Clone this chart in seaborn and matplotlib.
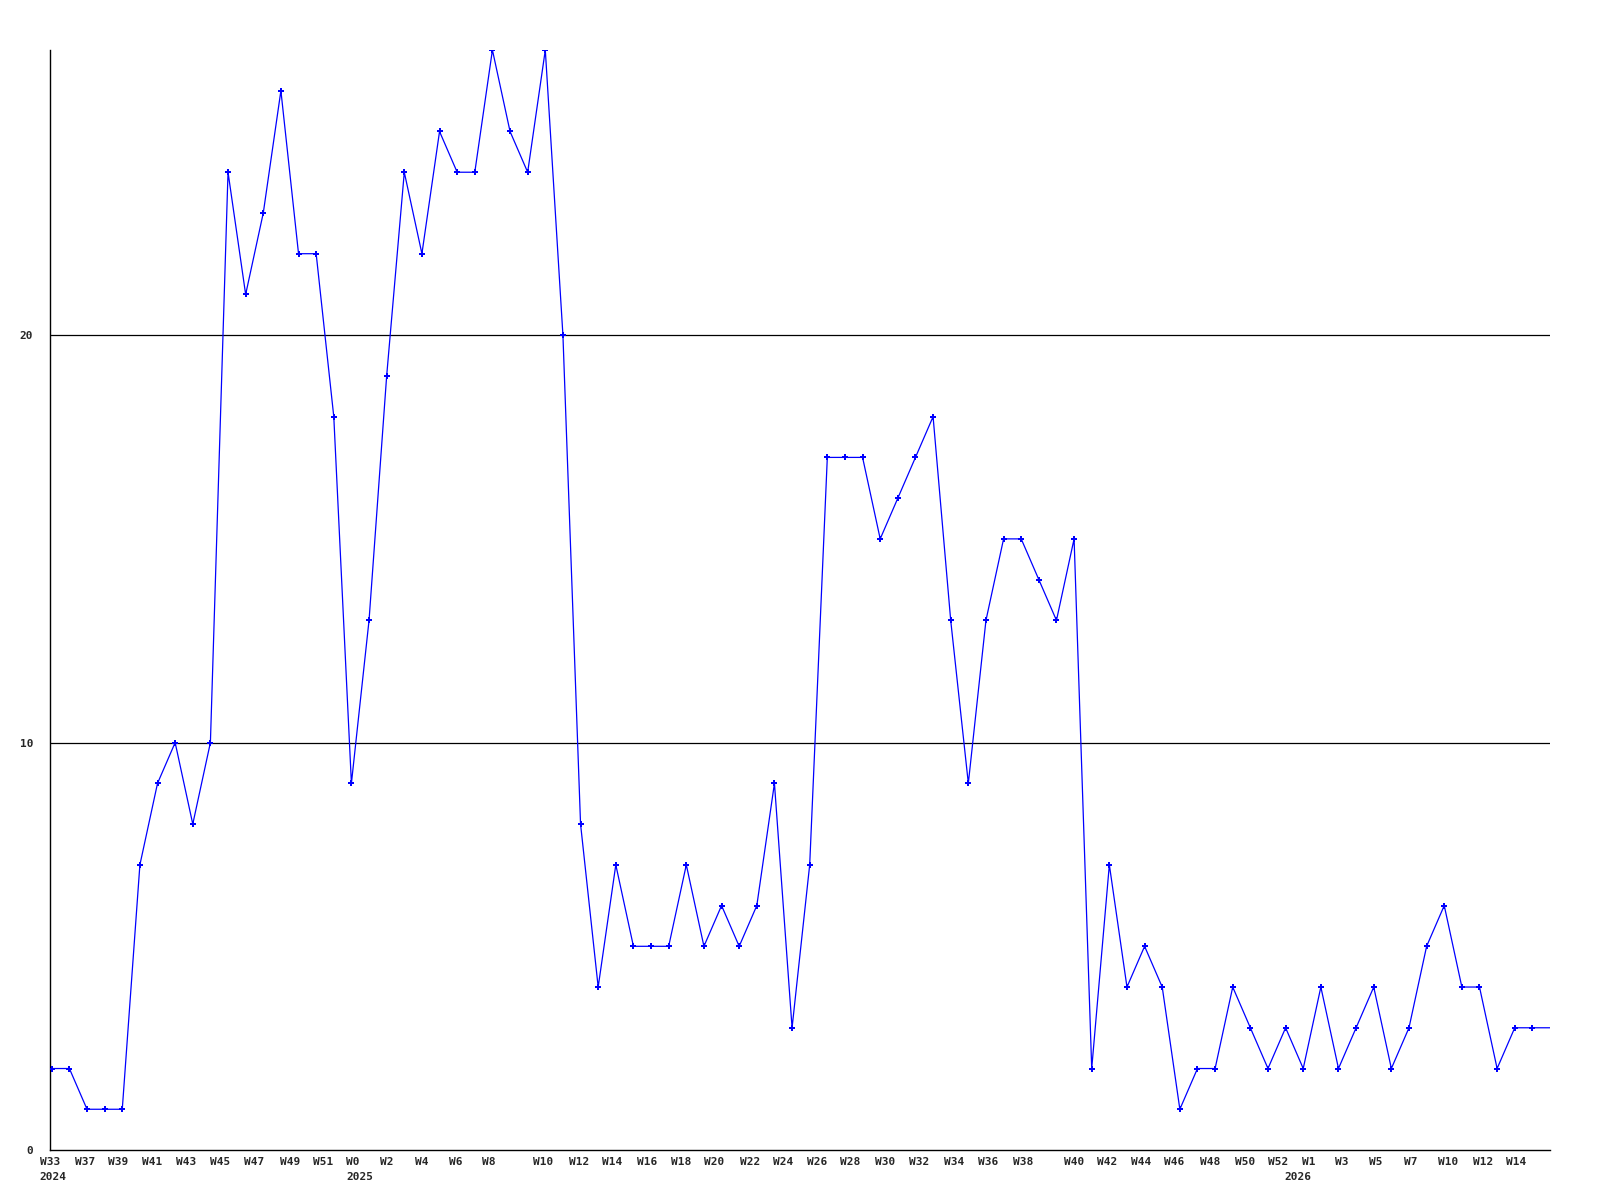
import numpy as np
import pandas as pd
import matplotlib
matplotlib.use("Agg")
import matplotlib.pyplot as plt
import matplotlib.transforms as mtransforms
import seaborn as sns

# ---- data ----
values = [2, 2, 1, 1, 1, 7, 9, 10, 8, 10,
          24, 21, 23, 26, 22, 22, 18, 9, 13, 19,
          24, 22, 25, 24, 24, 27, 25, 24, 27, 20,
          8, 4, 7, 5, 5, 5, 7, 5, 6, 5,
          6, 9, 3, 7, 17, 17, 17, 15, 16, 17,
          18, 13, 9, 13, 15, 15, 14, 13, 15, 2,
          7, 4, 5, 4, 1, 2, 2, 4, 3, 2,
          3, 2, 4, 2, 3, 4, 2, 3, 5, 6,
          4, 4, 2, 3, 3, 3]

week_labels = ["W33", "W37", "W39", "W41", "W43", "W45", "W47", "W49", "W51",
               "W0", "W2", "W4", "W6", "W8", "W10", "W12", "W14", "W16", "W18",
               "W20", "W22", "W24", "W26", "W28", "W30", "W32", "W34", "W36",
               "W38", "W40", "W42", "W44", "W46", "W48", "W50", "W52", "W1",
               "W3", "W5", "W7", "W10", "W12", "W14"]
# label positions (in point-index units along the x axis)
week_label_pos = [-0.1, 1.87, 3.74, 5.67, 7.65, 9.58, 11.5, 13.5, 15.4,
                  17.1, 19.0, 21.0, 22.9, 24.8, 27.9, 29.9, 31.8, 33.8, 35.7,
                  37.6, 39.6, 41.5, 43.4, 45.3, 47.3, 49.2, 51.2, 53.1,
                  55.1, 58.0, 59.9, 61.8, 63.7, 65.7, 67.7, 69.6, 71.3,
                  73.2, 75.1, 77.1, 79.2, 81.2, 83.1]
year_labels = ["2024", "2025", "2026"]
year_label_pos = [0.08, 17.5, 70.7]

y_ticks = [0, 10, 20]

df = pd.DataFrame({"idx": np.arange(len(values)), "value": values})

# ---- style ----
sns.set_style("white")
plt.rcParams["font.family"] = ["DejaVu Sans Mono", "DejaVu Sans"]
plt.rcParams["font.weight"] = "bold"

fig = plt.figure(figsize=(16, 12), dpi=100)
ax = fig.add_axes([50 / 1600, 1 - 1150 / 1200, 1500 / 1600, 1100 / 1200])

for yv in y_ticks[1:]:
    ax.axhline(yv, color="black", linewidth=0.9, zorder=1)

sns.lineplot(data=df, x="idx", y="value", ax=ax, color="#0000ff",
             linewidth=0.9, marker="P", markersize=4.5, markeredgewidth=0,
             markevery=list(range(len(values) - 1)), zorder=3)

ax.set_xlim(0, len(values) - 1)
ax.set_ylim(0, 27)

for side in ["top", "right"]:
    ax.spines[side].set_visible(False)
for side in ["left", "bottom"]:
    ax.spines[side].set_color("black")
    ax.spines[side].set_linewidth(1.0)

ax.set_yticks(y_ticks)
ax.set_yticklabels([str(v) for v in y_ticks], fontsize=8, fontweight="bold")
ax.tick_params(axis="y", length=0, pad=12)

ax.set_xticks(week_label_pos)
ax.set_xticklabels(week_labels, fontsize=8, fontweight="bold")
ax.tick_params(axis="x", length=0, pad=5)

trans = mtransforms.blended_transform_factory(ax.transData, ax.transAxes)
offset = mtransforms.ScaledTranslation(0, -22 / 100, fig.dpi_scale_trans)
for lab, pos in zip(year_labels, year_label_pos):
    ax.text(pos, 0, lab, transform=trans + offset, ha="center", va="top",
            fontsize=8, fontweight="bold",
            family=["DejaVu Sans Mono", "DejaVu Sans"])

ax.set_xlabel("")
ax.set_ylabel("")
ax.grid(False)

fig.savefig("out.png", dpi=100, facecolor="white")
